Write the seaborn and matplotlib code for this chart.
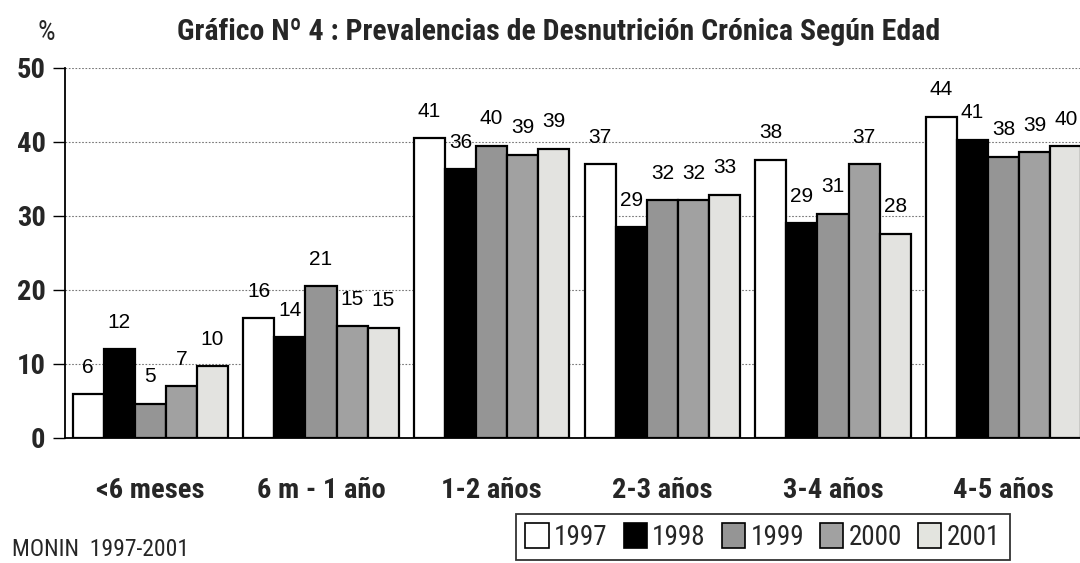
import matplotlib
matplotlib.use("Agg")
import matplotlib.pyplot as plt
from matplotlib import font_manager as fm
from matplotlib.patches import Patch
import seaborn as sns
import pandas as pd

categories = ["<6 meses", "6 m - 1 año", "1-2 años", "2-3 años", "3-4 años", "4-5 años"]
years = ["1997", "1998", "1999", "2000", "2001"]
v1997 = [5.9, 16.2, 40.5, 37.0, 37.6, 43.4]
v1998 = [12.0, 13.6, 36.3, 28.5, 29.0, 40.3]
v1999 = [4.6, 20.5, 39.5, 32.1, 30.3, 38.0]
v2000 = [7.0, 15.1, 38.3, 32.1, 37.0, 38.6]
v2001 = [9.7, 14.9, 39.1, 32.9, 27.6, 39.4]
labels = {
    "1997": ["6", "16", "41", "37", "38", "44"],
    "1998": ["12", "14", "36", "29", "29", "41"],
    "1999": ["5", "21", "40", "32", "31", "38"],
    "2000": ["7", "15", "39", "32", "37", "39"],
    "2001": ["10", "15", "39", "33", "28", "40"],
}
colors = {"1997": "#ffffff", "1998": "#000000", "1999": "#959595",
          "2000": "#a1a1a1", "2001": "#e3e4df"}

def pick(fams):
    for f in fams:
        try:
            fm.findfont(fm.FontProperties(family=f), fallback_to_default=False)
            return f
        except Exception:
            pass
    return "DejaVu Sans"

narrow = pick(["Liberation Sans Narrow", "Arial Narrow", "Roboto Condensed", "Liberation Sans"])
regular = pick(["Liberation Sans", "Arial"])

sns.set_theme(style="white")
plt.rcParams["font.family"] = [narrow, "DejaVu Sans"]

rows = []
for y, vals in zip(years, [v1997, v1998, v1999, v2000, v2001]):
    for c, v in zip(categories, vals):
        rows.append({"edad": c, "valor": v, "año": y})
df = pd.DataFrame(rows)

fig = plt.figure(figsize=(10.8, 5.63), dpi=100)
ax = fig.add_axes([65/1080, 1-438/563, 1024/1080, 370/563])

sns.barplot(data=df, x="edad", y="valor", hue="año", order=categories,
            hue_order=years, palette=colors, edgecolor="black", linewidth=1.6,
            width=0.91, gap=0, ax=ax, legend=False, errorbar=None)

for cont, y in zip(ax.containers, years):
    for bar, lab in zip(cont, labels[y]):
        ax.annotate(lab, (bar.get_x() + bar.get_width()/2, bar.get_height()),
                    xytext=(0, 19.5), textcoords="offset points",
                    ha="center", va="center", fontsize=15,
                    family=[regular, "DejaVu Sans"], color="black")

ax.set_ylim(0, 50)
ax.set_xlim(-0.5, 5.5)
ax.set_yticks([0, 10, 20, 30, 40, 50])
ax.set_yticklabels(["0", "10", "20", "30", "40", "50"], fontsize=20.5, fontweight="bold")
ax.set_xticks(range(len(categories)))
ax.set_xticklabels(categories, fontsize=20.5, fontweight="bold")
ax.tick_params(axis="x", which="major", length=0, pad=28)
ax.set_xticks([i - 0.5 for i in range(len(categories) + 1)], minor=True)
ax.tick_params(axis="x", which="minor", length=10, width=1, color="#555555", direction="out")
ax.tick_params(axis="y", length=9, width=1, color="black", direction="out", pad=5, left=True)
ax.set_xlabel("")
ax.set_ylabel("")
for y in [10, 20, 30, 40, 50]:
    ax.axhline(y, color="#777777", linestyle=(0, (1.5, 1.5)), linewidth=0.8, zorder=0)
ax.set_axisbelow(True)
for s in ["top", "right"]:
    ax.spines[s].set_visible(False)
ax.spines["left"].set_color("black")
ax.spines["left"].set_linewidth(1.3)
ax.spines["bottom"].set_color("black")
ax.spines["bottom"].set_linewidth(1.3)

fig.text(559/1080, 1-32/563, "Gráfico Nº 4 : Prevalencias de Desnutrición Crónica Según Edad",
         ha="center", va="center", fontsize=21.5, fontweight="bold")
fig.text(46/1080, 1-33/563, "%", ha="center", va="center", fontsize=20)
fig.text(12/1080, 1-549/563, "MONIN  1997-2001", ha="left", va="center", fontsize=17)

handles = [Patch(facecolor=colors[y], edgecolor="black", linewidth=1.2) for y in years]
leg = fig.legend(handles, years, loc="upper left", bbox_to_anchor=(516/1080, 1-514/563),
                 ncol=5, frameon=True, fancybox=False, fontsize=19.5,
                 handlelength=0.85, handleheight=1.0, handletextpad=0.2,
                 columnspacing=0.6, borderpad=0.35, borderaxespad=0)
leg.get_frame().set_edgecolor("black")
leg.get_frame().set_linewidth(1.3)

fig.savefig("out.png", dpi=100)
